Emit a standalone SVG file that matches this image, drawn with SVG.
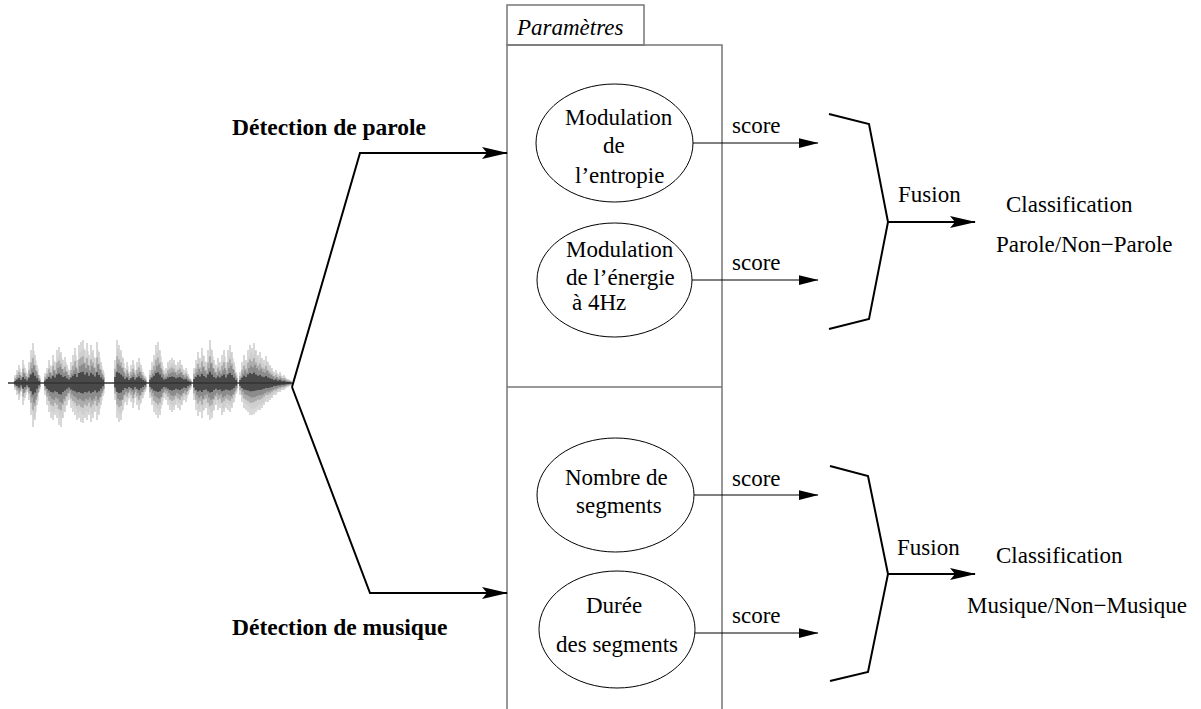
<svg xmlns="http://www.w3.org/2000/svg" xmlns:xlink="http://www.w3.org/1999/xlink" width="1201" height="709" viewBox="0 0 1201 709">
<style>
.t{font-family:"Liberation Serif","Times New Roman",serif;font-size:23px;fill:#000}
.b{font-weight:bold;font-size:23.5px}
.i{font-style:italic}
.box{fill:none;stroke:#777;stroke-width:1.5}
.el{fill:#fff;stroke:#000;stroke-width:1}
.thick{fill:none;stroke:#000;stroke-width:2}
.thin{fill:none;stroke:#000;stroke-width:1}
</style>
<defs>
<marker id="ah" viewBox="0 0 26 12" refX="25" refY="6" markerWidth="26" markerHeight="12" markerUnits="userSpaceOnUse" orient="auto"><path d="M0,0 L26,6 L0,12 L5,6 z" fill="#000"/></marker>
<marker id="as" viewBox="0 0 20 10" refX="19.5" refY="5" markerWidth="20" markerHeight="10" markerUnits="userSpaceOnUse" orient="auto"><path d="M0,0 L20,5 L0,10 z" fill="#000"/></marker>
<path id="wv" fill="none" d="M15 375V390M17 370V395M19 365V400M21 372V392M23 360V405M25 368V398M27 373V392M29 362V400M31 350V415M33 343V427M35 355V420M37 365V405M39 375V392M45 373V395M47 368V405M49 360V412M51 366V418M53 355V420M55 362V415M57 350V418M59 347V425M61 352V427M63 360V418M65 357V412M67 365V405M69 370V400M71 362V408M73 355V412M75 348V415M77 360V420M79 345V418M81 342V422M83 340V423M85 350V418M87 343V420M89 355V415M91 345V422M93 350V418M95 358V412M97 342V420M99 352V415M101 362V405M103 370V396M115 360V400M117 340V418M119 345V422M121 350V420M123 358V410M125 368V402M127 362V405M129 372V398M131 365V402M133 360V408M135 370V398M137 362V405M139 358V410M141 365V403M143 372V398M145 376V392M150 370V398M152 362V405M154 355V412M156 345V415M158 342V418M160 350V415M162 362V405M164 370V398M166 368V400M168 362V405M170 360V410M172 358V412M174 360V410M176 365V405M178 362V408M180 360V410M182 365V405M184 370V400M186 368V402M188 374V395M190 378V390M194 368V400M196 360V410M198 352V416M200 358V412M202 348V418M204 356V410M206 362V408M208 350V415M210 340V420M212 350V418M214 360V410M216 365V405M218 358V410M220 362V408M222 355V415M224 350V412M226 362V408M228 350V410M230 345V412M232 352V408M234 362V402M236 372V394M240 372V395M242 362V402M244 355V408M246 360V410M248 350V412M250 345V415M252 348V415M254 343V414M256 350V412M258 355V410M260 352V410M262 358V408M264 360V405M266 356V402M268 362V402M270 365V400M272 368V398M274 372V395M276 370V395M278 374V392M280 372V392M282 376V390M284 375V390M286 378V388M288 379V387M290 380V386"/>
</defs>
<rect width="1201" height="709" fill="#fff"/>

<g id="waveform">
<use xlink:href="#wv" stroke="#c4c4c4" stroke-width="1.3"/>
<use xlink:href="#wv" stroke="#c4c4c4" stroke-width="1" transform="translate(1,0) matrix(1,0,0,0.8,0,76.6)"/>
<use xlink:href="#wv" stroke="#7a7a7a" stroke-width="1" transform="matrix(1,0,0,0.62,0,145.5)"/>
<use xlink:href="#wv" stroke="#555" stroke-width="1" transform="translate(1,0) matrix(1,0,0,0.45,0,210.7)"/>
<use xlink:href="#wv" stroke="#1e1e1e" stroke-width="1.2" transform="matrix(1,0,0,0.26,0,283.4)"/>
<line x1="8" y1="383" x2="292" y2="383" stroke="#333" stroke-width="1.6"/>
</g>

<g id="params-box">
<rect class="box" x="507" y="5" width="137" height="40"/>
<text class="t i" x="517" y="35">Paramètres</text>
<polyline class="box" points="507,709 507,45 722,45 722,709"/>
<line class="box" x1="507" y1="387" x2="722" y2="387"/>
</g>

<g id="node-entropie">
<ellipse class="el" cx="614.5" cy="143" rx="78.5" ry="59"/>
<text class="t" x="565" y="125">Modulation</text>
<text class="t" x="603" y="153">de</text>
<text class="t" x="575" y="183">l’entropie</text>
</g>
<g id="node-energie">
<ellipse class="el" cx="614.5" cy="280" rx="77.5" ry="57"/>
<text class="t" x="566" y="257">Modulation</text>
<text class="t" x="566" y="285">de l’énergie</text>
<text class="t" x="572" y="310">à 4Hz</text>
</g>
<g id="node-nombre">
<ellipse class="el" cx="615.5" cy="495" rx="78.5" ry="57"/>
<text class="t" x="565" y="485">Nombre de</text>
<text class="t" x="576" y="513">segments</text>
</g>
<g id="node-duree">
<ellipse class="el" cx="617" cy="629.5" rx="78" ry="58.5"/>
<text class="t" x="586" y="613">Durée</text>
<text class="t" x="556" y="652">des segments</text>
</g>

<g id="labels">
<text class="t b" x="232" y="135">Détection de parole</text>
<text class="t b" x="232" y="635">Détection de musique</text>
<text class="t" x="732" y="133">score</text>
<text class="t" x="732" y="270">score</text>
<text class="t" x="732" y="486">score</text>
<text class="t" x="732" y="623">score</text>
<text class="t" x="898" y="202">Fusion</text>
<text class="t" x="897" y="555">Fusion</text>
<text class="t" x="1006" y="212">Classification</text>
<text class="t" x="996" y="252">Parole/Non−Parole</text>
<text class="t" x="996" y="563">Classification</text>
<text class="t" x="967" y="613">Musique/Non−Musique</text>
</g>

<g id="connectors">
<polyline class="thick" points="292,387 360,153 507,153" marker-end="url(#ah)"/>
<polyline class="thick" points="292,387 370,593 507,593" marker-end="url(#ah)"/>
<line class="thin" x1="693" y1="143" x2="818" y2="143" marker-end="url(#as)"/>
<line class="thin" x1="692" y1="280" x2="818" y2="280" marker-end="url(#as)"/>
<line class="thin" x1="694" y1="495" x2="818" y2="495" marker-end="url(#as)"/>
<line class="thin" x1="695" y1="633" x2="818" y2="633" marker-end="url(#as)"/>
<polyline class="thick" points="829,114 869,124 888,222 869,319 829,329"/>
<polyline class="thick" points="830,466 868,476 888,574 868,672 830,681"/>
<line class="thick" x1="888" y1="222" x2="975" y2="222" marker-end="url(#ah)"/>
<line class="thick" x1="888" y1="574" x2="975" y2="574" marker-end="url(#ah)"/>
</g>
</svg>
